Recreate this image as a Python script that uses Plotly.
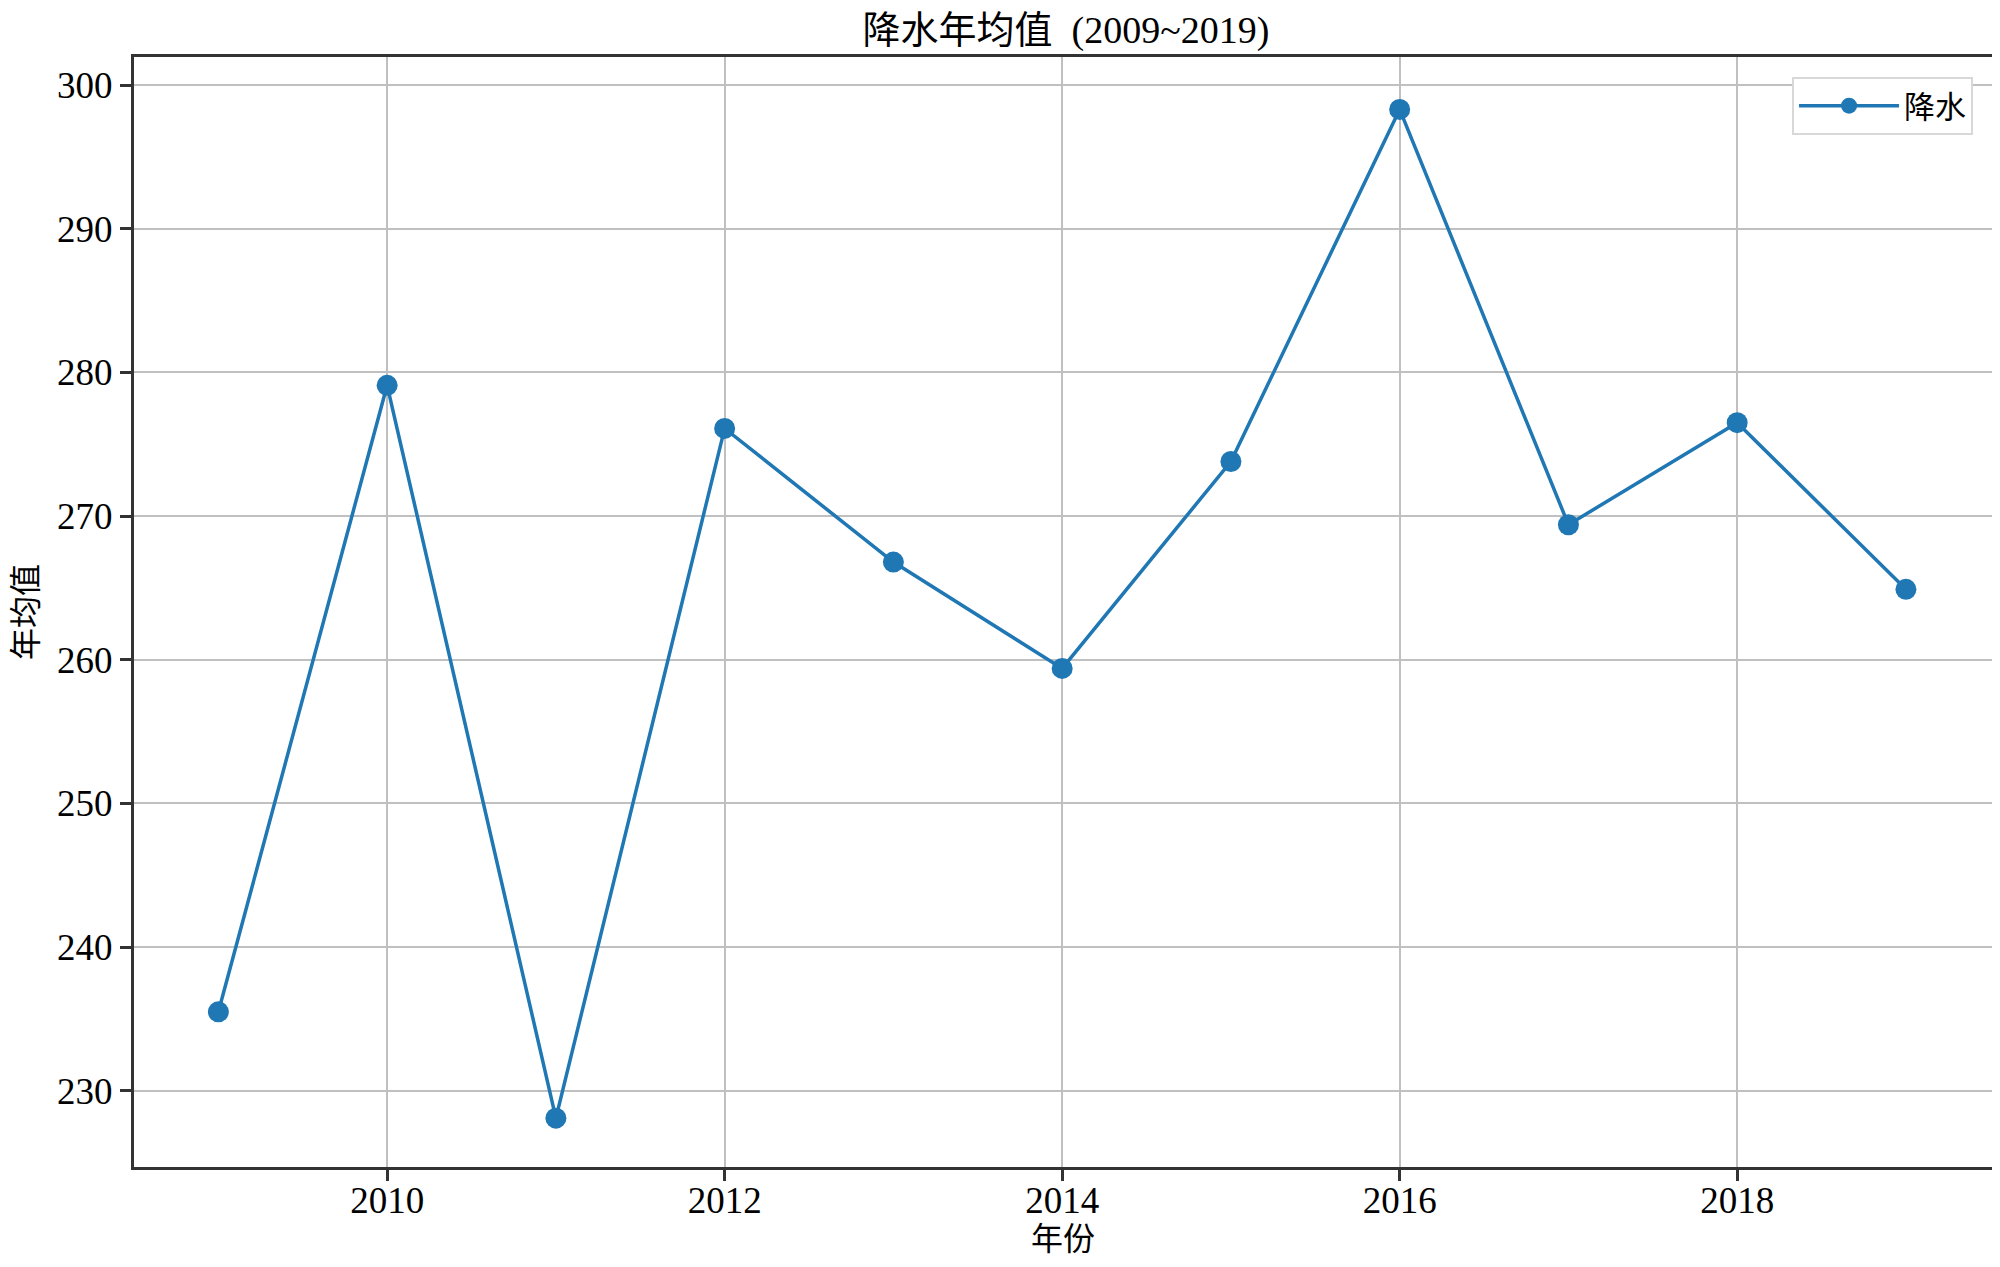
import plotly.graph_objects as go

years = [2009, 2010, 2011, 2012, 2013, 2014, 2015, 2016, 2017, 2018, 2019]
precip = [235.5, 279.1, 228.1, 276.1, 266.8, 259.4, 273.8, 298.3, 269.4, 276.5, 264.9]
x_ticks = [2010, 2012, 2014, 2016, 2018]
y_ticks = [230, 240, 250, 260, 270, 280, 290, 300]

FONT = "Liberation Serif, Noto Sans CJK SC, serif"

fig = go.Figure()
fig.add_trace(go.Scatter(
    x=years, y=precip, mode="lines+markers", name="降水",
    line=dict(color="#1f77b4", width=3.5),
    marker=dict(color="#1f77b4", size=21),
))

fig.update_layout(
    width=2000, height=1267,
    margin=dict(l=126, r=16, t=49, b=108),
    paper_bgcolor="white", plot_bgcolor="white",
    font=dict(family=FONT, size=37, color="black"),
    title=dict(text="降水年均值  (2009~2019)", x=0.529, xanchor="center",
               y=0.983, yanchor="middle", font=dict(size=38, family=FONT)),
    showlegend=True,
    legend=dict(x=0.9898, y=0.982, xanchor="right", yanchor="top",
                bgcolor="white", bordercolor="#d8d8d8", borderwidth=2,
                font=dict(size=31, family=FONT), itemwidth=100),
)
fig.update_xaxes(
    range=[2008.5, 2019.51], tickvals=x_ticks, ticktext=[str(t) for t in x_ticks],
    showgrid=True, gridcolor="#c0c0c0", gridwidth=2,
    showline=True, linecolor="#333333", linewidth=3, mirror=True,
    ticks="outside", ticklen=11, tickwidth=3, tickcolor="#333333",
    tickfont=dict(size=37), zeroline=False, ticklabelstandoff=-12,
    title=dict(text="年份", font=dict(size=32), standoff=2),
)
fig.update_yaxes(
    range=[224.7, 301.95], tickvals=y_ticks, ticktext=[str(t) for t in y_ticks],
    showgrid=True, gridcolor="#c0c0c0", gridwidth=2,
    showline=True, linecolor="#333333", linewidth=3, mirror=True,
    ticks="outside", ticklen=11, tickwidth=3, tickcolor="#333333",
    tickfont=dict(size=37), zeroline=False,
    title=dict(text="年均值", font=dict(size=32), standoff=12),
)

fig.write_html("out.html")
